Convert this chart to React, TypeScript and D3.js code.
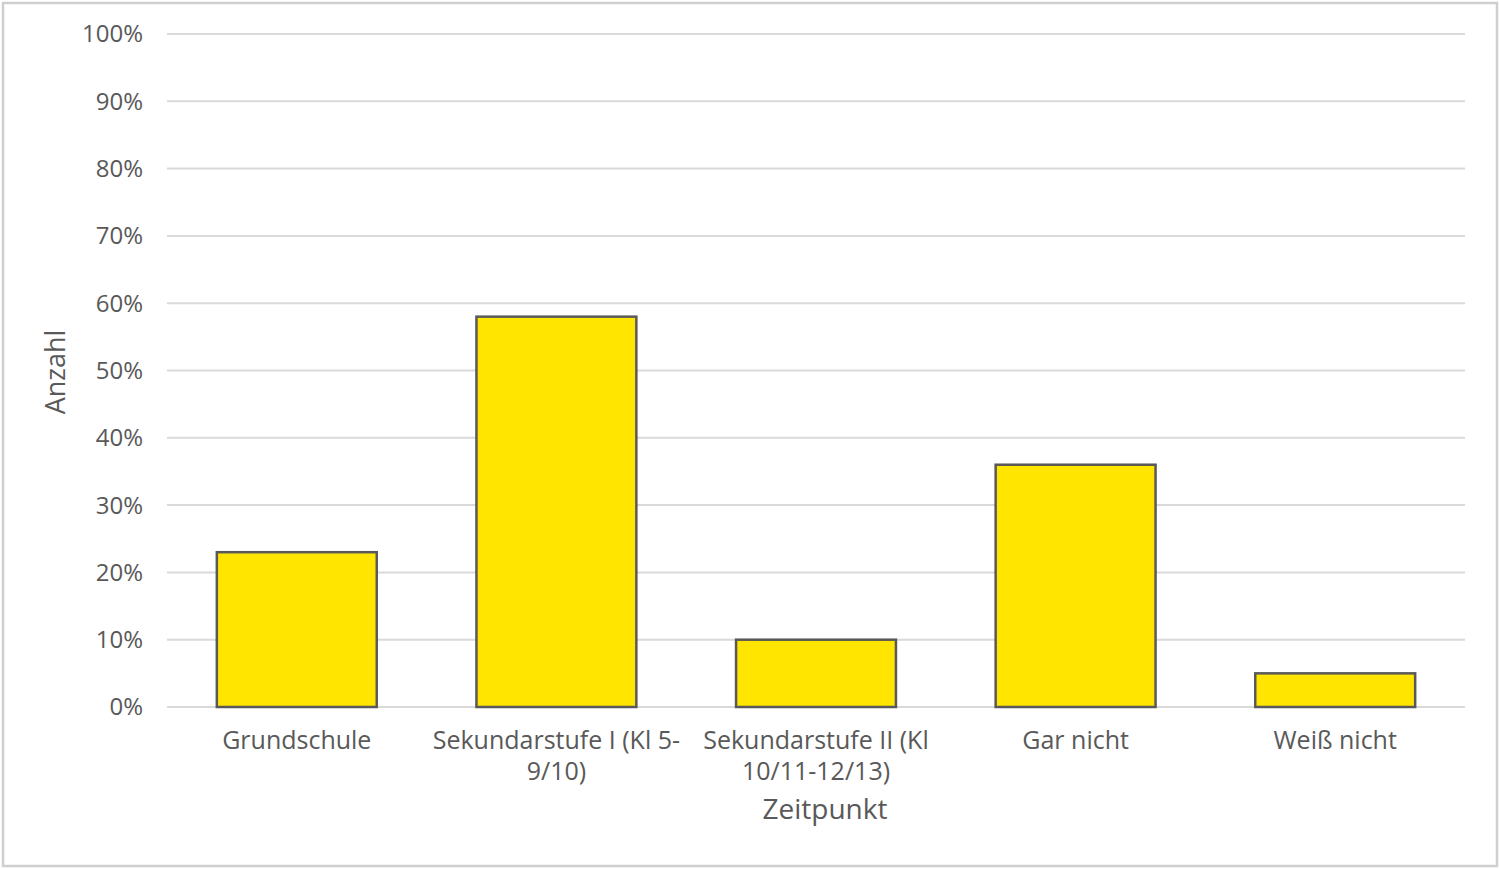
import { useEffect, useRef } from 'react';
import * as d3 from 'd3';

const categories = [
  'Grundschule',
  'Sekundarstufe I (Kl 5-9/10)',
  'Sekundarstufe II (Kl 10/11-12/13)',
  'Gar nicht',
  'Weiß nicht',
];
const categoryLines = [
  ['Grundschule'],
  ['Sekundarstufe I (Kl 5-', '9/10)'],
  ['Sekundarstufe II (Kl', '10/11-12/13)'],
  ['Gar nicht'],
  ['Weiß nicht'],
];
const values = [0.23, 0.58, 0.10, 0.36, 0.05];
const yTicks = [0, 0.1, 0.2, 0.3, 0.4, 0.5, 0.6, 0.7, 0.8, 0.9, 1.0];

export default function App() {
  const svgRef = useRef<SVGSVGElement>(null);

  useEffect(() => {
    if (!svgRef.current) return;
    const svg = d3.select(svgRef.current);
    svg.selectAll('*').remove();

    const width = 1500;
    const height = 869;
    const margin = { top: 34, right: 35, bottom: 162, left: 167 };
    const chartWidth = width - margin.left - margin.right;
    const chartHeight = height - margin.top - margin.bottom;
    const font = "'Open Sans', 'Noto Sans', sans-serif";
    const textColor = '#595959';

    // Chart frame
    svg.append('rect')
      .attr('x', 3)
      .attr('y', 3)
      .attr('width', width - 6)
      .attr('height', height - 6)
      .attr('fill', '#fff')
      .attr('stroke', '#cfcfcf')
      .attr('stroke-width', 2.5);

    const g = svg.append('g')
      .attr('transform', `translate(${margin.left},${margin.top})`);

    const xScale = d3.scaleBand<string>()
      .domain(categories)
      .range([0, chartWidth])
      .paddingInner(0.384)
      .paddingOuter(0.192);

    const yScale = d3.scaleLinear()
      .domain([0, 1])
      .range([chartHeight, 0]);

    // Grid lines
    g.append('g')
      .selectAll('line')
      .data(yTicks)
      .enter()
      .append('line')
      .attr('x1', 0)
      .attr('x2', chartWidth)
      .attr('y1', d => yScale(d))
      .attr('y2', d => yScale(d))
      .attr('stroke', '#d9d9d9')
      .attr('stroke-width', 2);

    // Y tick labels
    g.append('g')
      .selectAll('text')
      .data(yTicks)
      .enter()
      .append('text')
      .attr('x', -24)
      .attr('y', d => yScale(d))
      .attr('dy', '0.35em')
      .attr('text-anchor', 'end')
      .style('font-family', font)
      .style('font-size', '24px')
      .attr('fill', textColor)
      .text(d => d3.format('.0%')(d));

    // Bars
    g.append('g')
      .selectAll('rect')
      .data(values)
      .enter()
      .append('rect')
      .attr('x', (d, i) => xScale(categories[i])!)
      .attr('y', d => yScale(d))
      .attr('width', xScale.bandwidth())
      .attr('height', d => chartHeight - yScale(d))
      .attr('fill', '#ffe500')
      .attr('stroke', '#595959')
      .attr('stroke-width', 2.5);

    // X category labels
    categories.forEach((c, i) => {
      const cx = xScale(c)! + xScale.bandwidth() / 2;
      const t = g.append('text')
        .attr('text-anchor', 'middle')
        .style('font-family', font)
        .style('font-size', '25px')
        .attr('fill', textColor);
      categoryLines[i].forEach((line, j) => {
        t.append('tspan')
          .attr('x', cx)
          .attr('y', chartHeight + 42 + j * 31)
          .text(line);
      });
    });

    // Axis titles
    g.append('text')
      .attr('x', chartWidth / 2 + 9)
      .attr('y', chartHeight + 112)
      .attr('text-anchor', 'middle')
      .style('font-family', font)
      .style('font-size', '28px')
      .attr('fill', textColor)
      .text('Zeitpunkt');

    g.append('text')
      .attr('transform', 'rotate(-90)')
      .attr('x', -(372 - margin.top))
      .attr('y', -167 + 65)
      .attr('text-anchor', 'middle')
      .style('font-family', font)
      .style('font-size', '27px')
      .attr('fill', textColor)
      .text('Anzahl');
  }, []);

  return (
    <svg
      ref={svgRef}
      width={1500}
      height={869}
      style={{ position: 'absolute', left: 0, top: 0, display: 'block' }}
    />
  );
}
